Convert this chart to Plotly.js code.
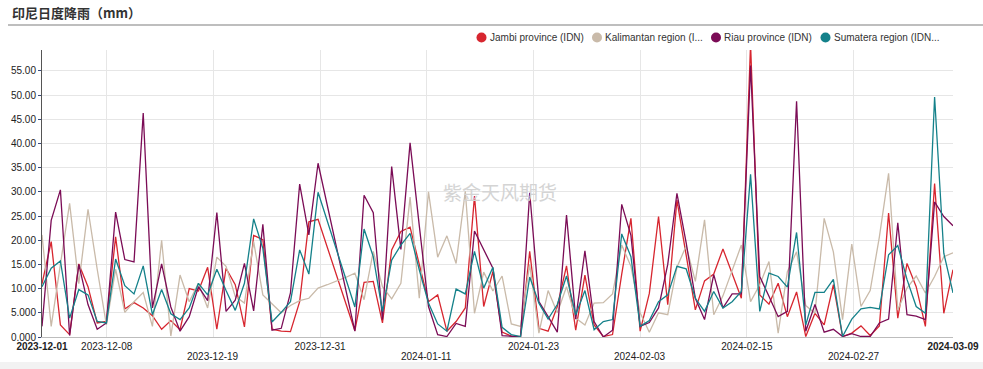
<!DOCTYPE html>
<html>
<head>
<meta charset="utf-8">
<script src="https://cdn.plot.ly/plotly-3.0.1.min.js"></script>
<style>
html,body{margin:0;padding:0;background:#f2f2f2;}
#chart{width:983px;height:362px;background:#fff;}
</style>
</head>
<body>
<div id="chart"></div>
<script>
// ---------------- data ----------------
const startDate = '2023-12-01';
const dayCount = 100;

const seriesNames = ['Jambi province (IDN)', 'Kalimantan region (I...', 'Riau province (IDN)', 'Sumatera region (IDN...'];

const jambi = [
  11.0, 19.7, 2.5, 0.5, 15.1, 10.4, 2.9, 3.2, 20.7, 5.8,
  7.1, 6.0, 4.4, 1.6, 3.4, 1.5, 10.0, 9.5, 14.4, 1.6,
  14.2, 10.8, 2.1, 21.0, 20.1, 1.6, 1.2, 1.1, 7.3, 23.8,
  24.3, null, null, null, 1.3, 11.3, 11.5, 2.9, 18.0, 21.8,
  22.7, 15.0, 7.3, 8.7, 1.2, 3.2, 6.0, 29.1, 6.3, 13.5,
  1.0, 0.2, 0.1, 17.7, 1.8, 1.2, 6.3, 14.7, 1.4, 12.8,
  2.5, 0.1, 0.5, 13.0, 24.5, 1.2, 9.0, 24.9, 6.7, 28.3,
  17.0, 5.6, 11.6, 13.0, 18.2, 12.9, 8.0, 60.5, 8.7, 6.8,
  11.1, 4.2, 9.3, 0.1, 4.9, 2.5, 10.8, 0.1, 0.8, 2.3,
  0.3, 2.3, 25.6, 3.9, 15.2, 10.4, 2.2, 31.7, 4.9, 13.9
];

const kalimantan = [
  21.1, 2.2, 15.0, 27.6, 11.0, 26.4, 14.0, 2.5, 14.0, 5.1,
  7.3, 9.2, 2.2, 20.0, 0.2, 12.8, 7.3, 11.1, 6.0, 16.5,
  14.6, 8.4, 7.0, 19.7, 8.7, 6.8, 5.0, 6.5, 7.5, 8.0,
  10.1, 10.8, 11.5, 12.3, 13.2, 7.7, 17.7, 10.4, 7.9, 11.1,
  28.9, 8.0, 30.0, 16.5, 20.9, 15.2, 30.1, 4.9, 13.4, 9.5,
  12.6, 2.7, 2.2, 15.0, 0.8, 9.6, 5.0, 10.4, 3.9, 2.5,
  7.0, 7.1, 8.9, 19.0, 14.6, 5.0, 1.0, 5.0, 4.6, 14.4,
  18.8, 11.5, 24.2, 4.6, 8.5, 13.7, 19.0, 7.3, 10.8, 15.6,
  0.8, 13.5, 17.6, 6.5, 4.9, 24.5, 17.6, 3.6, 19.2, 6.3,
  9.6, 20.7, 33.8, 5.6, 10.1, 12.6, 9.1, 12.5, 16.6, 17.4
];

const riau = [
  2.2, 24.1, 30.4, 0.3, 15.0, 6.7, 1.6, 2.9, 25.8, 16.0,
  15.5, 46.3, 6.0, 15.1, 6.2, 1.2, 4.2, 10.4, 7.5, 25.7,
  5.3, 7.6, 15.2, 5.4, 23.3, 1.4, 1.8, 9.1, 31.6, 21.1,
  35.9, null, null, null, 1.2, 29.3, 25.7, 3.6, 35.2, 18.1,
  40.1, 23.0, 6.3, 0.5, 0.1, 2.8, 2.2, 21.9, 18.2, 14.2,
  0.3, 0.1, 0.0, 29.8, 7.3, 4.2, 1.0, 25.2, 3.7, 17.8,
  3.2, 0.0, 1.4, 27.4, 21.0, 2.2, 3.0, 6.0, 15.0, 29.7,
  19.5, 8.0, 3.6, 12.9, 6.0, 8.9, 8.9, 56.1, 12.5, 8.4,
  4.2, 5.3, 48.7, 1.2, 6.7, 1.0, 1.6, 0.1, 0.7, 0.1,
  0.1, 2.9, 3.7, 23.6, 4.6, 4.3, 3.6, 27.9, 24.9, 23.0
];

const sumatera = [
  10.4, 14.2, 15.7, 3.9, 9.8, 8.7, 3.2, 2.9, 16.1, 10.6,
  8.9, 14.7, 4.6, 9.8, 4.8, 3.6, 6.0, 11.1, 8.7, 14.0,
  9.6, 5.5, 11.1, 24.4, 18.3, 3.1, 5.1, 7.3, 18.0, 13.0,
  29.9, null, null, null, 6.2, 22.3, 16.6, 5.3, 15.9, 19.0,
  21.4, 13.9, 7.0, 2.7, 1.2, 9.9, 8.9, 17.7, 10.1, 14.4,
  2.0, 0.5, 0.1, 12.4, 7.0, 3.7, 6.7, 12.6, 4.6, 9.6,
  1.5, 3.2, 3.6, 21.3, 16.6, 2.2, 3.4, 7.3, 8.7, 14.6,
  14.1, 8.0, 5.3, 9.4, 6.0, 7.3, 9.4, 33.6, 5.3, 13.2,
  12.5, 10.3, 21.6, 2.5, 9.2, 9.2, 11.9, 0.1, 3.7, 5.8,
  6.1, 5.8, 17.0, 18.9, 11.9, 6.3, 4.9, 49.6, 17.3, 9.1
];

const xTickLabels = ['2023-12-01','2023-12-08','2023-12-19','2023-12-31','2024-01-11','2024-01-23','2024-02-03','2024-02-15','2024-02-27','2024-03-09'];
const xTickLowerRow = [false, false, true, false, true, false, true, false, true, false];
const yTickValues = [0, 5, 10, 15, 20, 25, 30, 35, 40, 45, 50, 55];
const yTickLabels = ['0.000','5.000','10.00','15.00','20.00','25.00','30.00','35.00','40.00','45.00','50.00','55.00'];

// ---------------- build ----------------
const DAY = 86400000;
const t0 = Date.parse(startDate + 'T00:00:00Z');
const dates = [];
for (let i = 0; i < dayCount; i++) dates.push(new Date(t0 + i * DAY).toISOString().slice(0, 10));

const colors = ['#d7262f', '#c9baa9', '#7b0c56', '#14818a'];
const seriesData = [jambi, kalimantan, riau, sumatera];

const traces = seriesData.map((vals, k) => ({
  type: 'scatter', mode: 'lines', x: dates, y: vals, name: seriesNames[k],
  connectgaps: true, line: {color: colors[k], width: 1.3}, hoverinfo: 'skip', showlegend: false
}));

// layout geometry
const W = 983, Hh = 362, L = 42, R = 30, T = 50, B = 25;
const PW = W - L - R, PH = Hh - T - B;
const px2x = px => (px - L) / PW;
const py2y = py => (T + PH - py) / PH;

// tick positions: ends at the range ends, inner ticks evenly spaced
const lastDay = dayCount - 1;
const tickDayPos = xTickLabels.map((_, i) => {
  if (i === 0) return 0;
  if (i === xTickLabels.length - 1) return lastDay;
  return 7.03 + (i - 1) * 11.595;
});
const tickvals = tickDayPos.map(d => new Date(t0 + d * DAY).toISOString().replace('T', ' ').slice(0, 19));
const ticktext = xTickLabels.map((s, i) => {
  if (xTickLowerRow[i]) return '';
  return (i === 0 || i === xTickLabels.length - 1) ? '<b>' + s + '</b>' : s;
});

const legendMarkerPx = [481.5, 597, 716, 825.5];
const legendY = 37.5;
const shapes = [
  {type: 'line', xref: 'paper', yref: 'paper', x0: px2x(8), x1: px2x(983), y0: py2y(25), y1: py2y(25),
   line: {color: '#a8a8a8', width: 1.5}}
];
const annotations = [];
seriesNames.forEach((nm, k) => {
  shapes.push({type: 'circle', xref: 'paper', yref: 'paper', xsizemode: 'pixel', ysizemode: 'pixel',
    xanchor: px2x(legendMarkerPx[k]), yanchor: py2y(legendY), x0: -5, x1: 5, y0: -5, y1: 5,
    fillcolor: colors[k], line: {width: 0}});
  annotations.push({xref: 'paper', yref: 'paper', x: px2x(legendMarkerPx[k] + 6), y: py2y(legendY),
    xanchor: 'left', yanchor: 'middle', showarrow: false, text: nm,
    font: {family: 'Liberation Sans, Arial, sans-serif', size: 10, color: '#333'}});
});
// lower row of x tick labels (staggered)
xTickLabels.forEach((s, i) => {
  if (!xTickLowerRow[i]) return;
  annotations.push({xref: 'x', yref: 'paper', x: tickvals[i], y: py2y(356.5), xanchor: 'center', yanchor: 'middle',
    showarrow: false, text: s, font: {family: 'Liberation Sans, Arial, sans-serif', size: 10, color: '#222'}});
});
annotations.push({xref: 'paper', yref: 'paper', x: px2x(500), y: py2y(191), xanchor: 'center', yanchor: 'middle',
  showarrow: false, text: '紫金天风期货', font: {family: 'Noto Sans CJK SC', size: 19, color: '#d4d4d4'}});

const layout = {
  width: W, height: Hh,
  margin: {l: L, r: R, t: T, b: B, pad: 0},
  paper_bgcolor: '#ffffff', plot_bgcolor: '#ffffff',
  showlegend: false,
  title: {text: '<b>印尼日度降雨（mm）</b>', xref: 'container', yref: 'container', x: 12 / W, xanchor: 'left',
          y: 1 - 13 / Hh, yanchor: 'middle', font: {family: 'Noto Sans CJK SC', size: 13, color: '#333'}},
  font: {family: 'Liberation Sans, Arial, sans-serif', size: 10, color: '#333'},
  xaxis: {
    type: 'date', range: [dates[0], dates[dates.length - 1]],
    tickmode: 'array', tickvals: tickvals, ticktext: ticktext, tickangle: 0,
    showgrid: true, gridcolor: '#e6e6e6', gridwidth: 1,
    showline: true, linecolor: '#bdbdbd', linewidth: 1,
    ticks: '', zeroline: false,
    tickfont: {family: 'Liberation Sans, Arial, sans-serif', size: 10, color: '#222'}
  },
  yaxis: {
    range: [0, 59.3], tickmode: 'array', tickvals: yTickValues, ticktext: yTickLabels,
    showgrid: true, gridcolor: '#e6e6e6', gridwidth: 1,
    showline: true, linecolor: '#555', linewidth: 1,
    ticks: 'outside', ticklen: 3, tickcolor: '#3a4a7a', zeroline: false,
    tickfont: {family: 'Liberation Sans, Arial, sans-serif', size: 10, color: '#222'}
  },
  shapes: shapes,
  annotations: annotations
};

Plotly.newPlot('chart', traces, layout, {displayModeBar: false, staticPlot: true});
</script>
</body>
</html>
